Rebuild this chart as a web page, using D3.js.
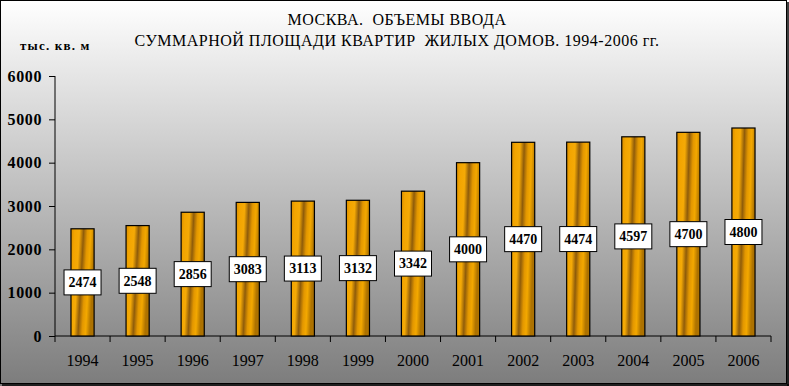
<!DOCTYPE html>
<html>
<head>
<meta charset="utf-8">
<script src="https://cdn.jsdelivr.net/npm/d3@7"></script>
<style>
  body { margin: 0; padding: 0; background: #fff; }
  svg { display: block; }
</style>
</head>
<body>
<svg id="chart"></svg>
<script>
// Москва, объемы ввода жилья 1994-2006
const years = ["1994", "1995", "1996", "1997", "1998", "1999", "2000",
               "2001", "2002", "2003", "2004", "2005", "2006"];
const values = [2474, 2548, 2856, 3083, 3113, 3132, 3342, 4000, 4470, 4474, 4597, 4700, 4800];
const yTicks = [0, 1000, 2000, 3000, 4000, 5000, 6000];
const titleLines = ["МОСКВА.  ОБЪЕМЫ ВВОДА", "СУММАРНОЙ ПЛОЩАДИ КВАРТИР  ЖИЛЫХ ДОМОВ. 1994-2006 гг."];
const unitLabel = "тыс. кв. м";

const width = 789, height = 386;
const margin = {left: 55, right: 18, top: 76, bottom: 50};
const font = "'Liberation Serif', 'Times New Roman', serif";

const svg = d3.select("#chart").attr("width", width).attr("height", height);
const defs = svg.append("defs");

// background gradient
const bg = defs.append("linearGradient").attr("id", "bg")
    .attr("x1", 0).attr("y1", 0).attr("x2", 0).attr("y2", 1);
bg.append("stop").attr("offset", "0%").attr("stop-color", "#ffffff");
bg.append("stop").attr("offset", "100%").attr("stop-color", "#7c7c7c");

// golden striped bar fill
const gold = defs.append("linearGradient").attr("id", "gold")
    .attr("x1", 0).attr("y1", 0).attr("x2", 1).attr("y2", 0.25);
[["0%", "#d88c00"], ["15%", "#f2a400"], ["35%", "#f5aa06"], ["52%", "#8f5c0a"],
 ["68%", "#e39700"], ["82%", "#f3a800"], ["100%", "#ad7200"]]
  .forEach(s => gold.append("stop").attr("offset", s[0]).attr("stop-color", s[1]));

svg.append("rect").attr("x", 0).attr("y", 0).attr("width", width).attr("height", height)
    .attr("fill", "url(#bg)");
// frame with shadow on right / bottom
svg.append("rect").attr("x", 0.5).attr("y", 0.5).attr("width", 786).attr("height", 383)
    .attr("fill", "none").attr("stroke", "#000").attr("stroke-width", 1);
svg.append("line").attr("x1", 2).attr("x2", 789).attr("y1", 385).attr("y2", 385)
    .attr("stroke", "#000").attr("stroke-width", 1.5);
svg.append("line").attr("x1", 788).attr("x2", 788).attr("y1", 2).attr("y2", 386)
    .attr("stroke", "#000").attr("stroke-width", 1.5);

const x = d3.scaleBand().domain(years)
    .range([margin.left, width - margin.right]).paddingInner(0.58).paddingOuter(0.29);
const y = d3.scaleLinear().domain([0, 6000]).range([336, 76]);

// title
svg.append("g").selectAll("text").data(titleLines).enter().append("text")
    .attr("x", 397).attr("y", (d, i) => 25 + i * 21)
    .attr("text-anchor", "middle")
    .style("font-family", font).style("font-size", "16px").style("letter-spacing", "0.5px")
    .style("white-space", "pre")
    .text(d => d);

svg.append("text").attr("x", 20).attr("y", 50)
    .style("font-family", font).style("font-size", "13px").style("font-weight", "bold")
    .style("letter-spacing", "1.2px")
    .text(unitLabel);

// y axis
const yAxis = svg.append("g").attr("transform", `translate(${margin.left},0)`)
    .call(d3.axisLeft(y).tickValues(yTicks).tickSize(6).tickPadding(7).tickFormat(d3.format("d")));
yAxis.select(".domain").attr("stroke", "#000").attr("d", `M0,${y(6000)}V${y(0)}`);
yAxis.selectAll("text").style("font-family", font).style("font-size", "16px")
    .style("font-weight", "bold").style("letter-spacing", "0.6px").attr("fill", "#000");

// x axis with ticks between categories
const xAxisG = svg.append("g").attr("transform", `translate(0,${y(0)})`);
xAxisG.append("line").attr("x1", margin.left).attr("x2", width - margin.right)
    .attr("stroke", "#000");
const bounds = d3.range(years.length + 1).map(i => margin.left + i * (width - margin.left - margin.right) / years.length);
xAxisG.selectAll(".tk").data(bounds).enter().append("line")
    .attr("x1", d => d).attr("x2", d => d).attr("y1", 0).attr("y2", 6)
    .attr("stroke", "#000");
xAxisG.selectAll(".lbl").data(years).enter().append("text")
    .attr("x", d => x(d) + x.bandwidth() / 2).attr("y", 30)
    .attr("text-anchor", "middle")
    .style("font-family", font).style("font-size", "16px")
    .text(d => d);

// bars
svg.append("g").selectAll("rect").data(values).enter().append("rect")
    .attr("x", (d, i) => x(years[i]))
    .attr("y", d => y(d))
    .attr("width", x.bandwidth())
    .attr("height", d => y(0) - y(d))
    .attr("fill", "url(#gold)")
    .attr("stroke", "#000").attr("stroke-width", 1.2);

// value labels
const lbl = svg.append("g").selectAll("g").data(values).enter().append("g")
    .attr("transform", (d, i) => `translate(${x(years[i]) + x.bandwidth() / 2},${y(d / 2)})`);
lbl.append("rect").attr("x", -18.5).attr("y", -12.5).attr("width", 37).attr("height", 25)
    .attr("fill", "#fff").attr("stroke", "#000").attr("stroke-width", 1);
lbl.append("text").attr("text-anchor", "middle").attr("dy", "0.35em")
    .style("font-family", font).style("font-size", "14px").style("font-weight", "bold")
    .text(d => d);
</script>
</body>
</html>
